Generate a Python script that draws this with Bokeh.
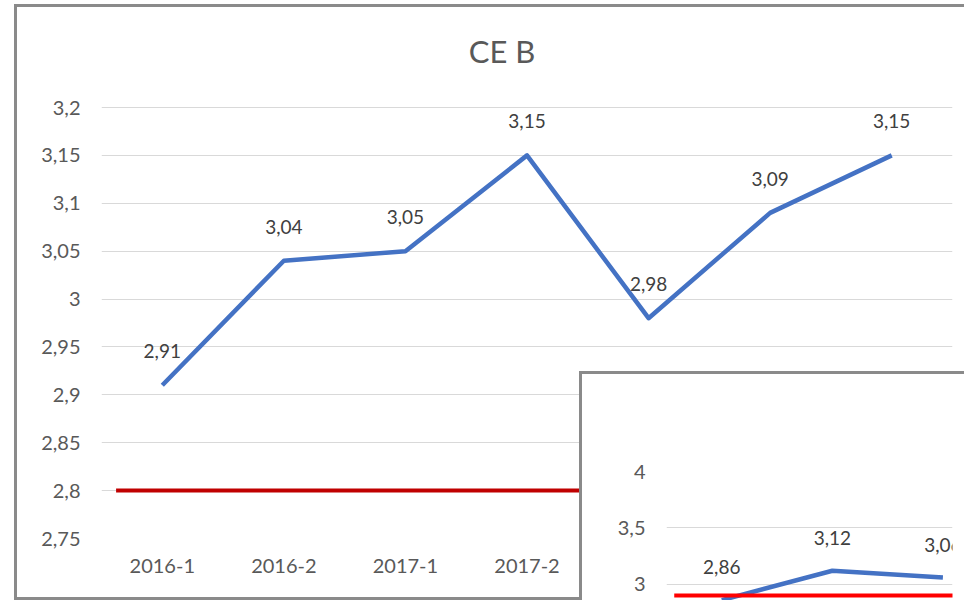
from bokeh.plotting import figure
from bokeh.models import Range1d, FixedTicker, CustomJSTickFormatter, ColumnDataSource, LabelSet, Label
from bokeh.core.properties import value
from bokeh.layouts import column
from bokeh.embed import file_html
from bokeh.resources import INLINE

# ---- data (main chart "CE B") ----
chart_title = "CE B"
categories = ["2016-1", "2016-2", "2017-1", "2017-2", "2018-1", "2018-2", "2019-1"]
ce_b = [2.91, 3.04, 3.05, 3.15, 2.98, 3.09, 3.15]
ce_b_target = 2.8
y_ticks = [2.75, 2.8, 2.85, 2.9, 2.95, 3.0, 3.05, 3.1, 3.15, 3.2]

# ---- data (overlapping second chart, partially visible) ----
inset_categories = ["2016-1", "2016-2", "2017-1"]
inset_values = [2.86, 3.12, 3.06]
inset_target = 2.9
inset_ticks = [3.0, 3.5, 4.0, 4.5]

FONT = "Lato"
TICK_COLOR = "#595959"
LABEL_COLOR = "#404040"
GRID = "#d9d9d9"
BORDER = "3px solid #8a8a8a"

fmt = CustomJSTickFormatter(code="return tick.toFixed(2).replace(/0+$/, '').replace(/\\.$/, '').replace('.', ',');")

def comma(v):
    return f"{v:.2f}".replace(".", ",")

# ---------------- main figure ----------------
# plot area keeps 100px of headroom above the top tick for the title
px_per_unit = 431 / (y_ticks[-1] - y_ticks[0])
y_top = y_ticks[-1] + 100 / px_per_unit

p = figure(width=950, height=596, output_backend="svg", toolbar_location=None,
           x_range=Range1d(-0.5, len(categories) - 0.5), y_range=Range1d(y_ticks[0], y_top),
           min_border_left=84, min_border_right=15, min_border_top=0, min_border_bottom=65)
p.background_fill_color = "white"
p.border_fill_color = "white"
p.outline_line_color = None

xs = list(range(len(categories)))
p.add_layout(Label(x=(xs[0] + xs[-1]) / 2, y=y_ticks[-1], x_offset=-25, y_offset=57,
                   text=chart_title, text_align="center", text_baseline="middle",
                   text_font=FONT, text_font_size="31px", text_color=TICK_COLOR))

p.xaxis.ticker = FixedTicker(ticks=xs)
p.xaxis.major_label_overrides = {i: c for i, c in zip(xs, categories)}
p.yaxis.ticker = FixedTicker(ticks=y_ticks)
p.yaxis.formatter = fmt
for ax in (p.xaxis, p.yaxis):
    ax.axis_line_color = None
    ax.major_tick_line_color = None
    ax.minor_tick_line_color = None
    ax.major_tick_out = 0
    ax.major_tick_in = 0
    ax.major_label_text_font = FONT
    ax.major_label_text_font_size = "20px"
    ax.major_label_text_color = TICK_COLOR
p.xaxis.major_label_standoff = 20
p.yaxis.major_label_standoff = 21
p.xgrid.grid_line_color = None
p.ygrid.grid_line_color = GRID
p.ygrid.grid_line_width = 1

p.line(x=[xs[0] - 0.38, xs[-1] + 0.38], y=[ce_b_target, ce_b_target],
       line_color="#c00000", line_width=4)
src = ColumnDataSource(dict(x=xs, y=ce_b, t=[comma(v) for v in ce_b]))
p.line("x", "y", source=src, line_color="#4472c4", line_width=4.5, line_join="round")
p.add_layout(LabelSet(x="x", y="y", text="t", source=src, y_offset=34,
                      text_align="center", text_baseline="middle",
                      text_font=value(FONT), text_font_size=value("19px"),
                      text_color=LABEL_COLOR))

p.styles = {"position": "absolute", "left": "14px", "top": "4px",
            "border-left": BORDER, "border-top": BORDER, "border-bottom": BORDER,
            "background": "white"}

# ---------------- inset figure ----------------
q = figure(width=385, height=229, output_backend="svg", toolbar_location=None,
           x_range=Range1d(-0.5, -0.5 + 313 / 121), y_range=Range1d(2.83, 4.0),
           min_border_left=72, min_border_right=0, min_border_top=97, min_border_bottom=0)
q.background_fill_color = "white"
q.border_fill_color = "white"
q.outline_line_color = None
qx = list(range(len(inset_categories)))
q.xaxis.visible = False
q.yaxis.ticker = FixedTicker(ticks=inset_ticks)
q.yaxis.formatter = fmt
q.yaxis.axis_line_color = None
q.yaxis.major_tick_line_color = None
q.yaxis.minor_tick_line_color = None
q.yaxis.major_tick_out = 0
q.yaxis.major_label_text_font = FONT
q.yaxis.major_label_text_font_size = "20px"
q.yaxis.major_label_text_color = TICK_COLOR
q.yaxis.major_label_standoff = 21
q.xgrid.grid_line_color = None
q.ygrid.grid_line_color = GRID

qsrc = ColumnDataSource(dict(x=qx, y=inset_values, t=[comma(v) for v in inset_values]))
q.line("x", "y", source=qsrc, line_color="#4472c4", line_width=4.5, line_join="round")
q.line(x=[qx[0] - 0.43, qx[-1] + 0.6], y=[inset_target, inset_target],
       line_color="#ff0000", line_width=4)
q.add_layout(LabelSet(x="x", y="y", text="t", source=qsrc, y_offset=33,
                      text_align="center", text_baseline="middle",
                      text_font=value(FONT), text_font_size=value("19px"),
                      text_color=LABEL_COLOR))
q.styles = {"position": "absolute", "left": "579px", "top": "371px",
            "border-left": BORDER, "border-top": BORDER, "background": "white"}

root = column(p, q, width=967, height=603, sizing_mode="fixed",
              styles={"position": "absolute", "left": "0px", "top": "0px",
                      "background": "white"})

open("out.html", "w").write(file_html(root, INLINE))
